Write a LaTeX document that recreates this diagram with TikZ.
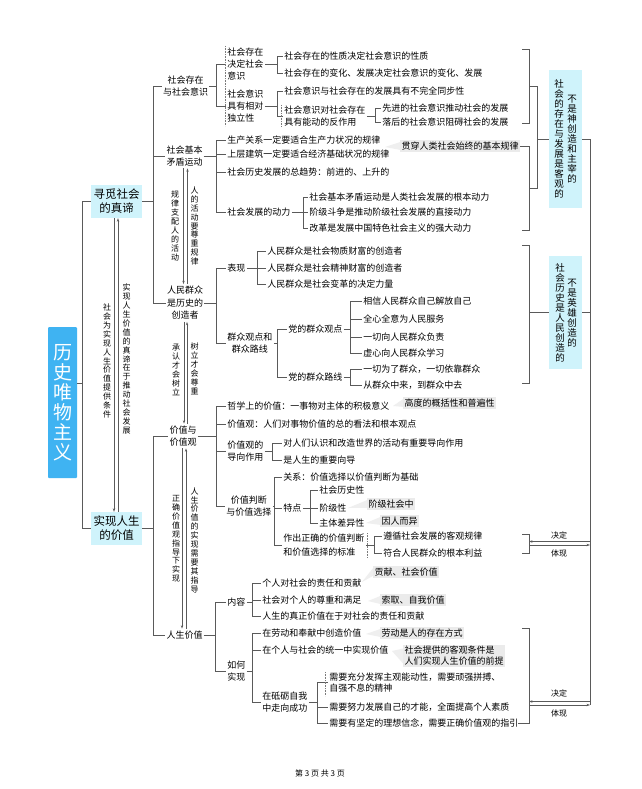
\documentclass[tikz,border=0pt]{standalone}
\usepackage{fontspec}
\setmainfont{Noto Sans CJK SC}
\usetikzlibrary{arrows.meta}
\definecolor{lc}{HTML}{5A5A5A}
\definecolor{mainblue}{HTML}{3FB3F2}
\definecolor{lightcyan}{HTML}{CFF3FB}
\definecolor{annbg}{HTML}{EBEBEB}
\newcommand\fs{\fontsize{9}{12}\selectfont}
\tikzset{
 ln/.style={draw=lc, line width=0.7pt},
 t/.style={anchor=west, inner sep=0pt, inner xsep=1.2pt, font=\fs},
 tl/.style={t, align=left},
 tc/.style={t, align=center},
 cn/.style={inner xsep=1pt, inner ysep=2pt, font=\fs, align=center},
 ann/.style={inner sep=1.5pt, fill=annbg, font=\fs, anchor=west, align=left},
 wedge/.style={fill=annbg!80},
 vl/.style={inner sep=0pt, align=center, font=\fontsize{8}{8.9}\selectfont},
 bxv/.style={inner sep=0pt, align=center, font=\fontsize{9.5}{10}\selectfont},
 bx/.style={fill=lightcyan, inner sep=0pt},
 arr/.style={ln, -{Stealth[length=3.5pt,width=2.4pt]}},
 dot/.style={draw=lc!80, densely dotted, line width=0.6pt},
 small/.style={inner sep=0pt, font=\fontsize{8}{9}\selectfont},
}
\newcommand\br[3]{%
 \coordinate (bv) at (#2,0);
 \draw[ln] (#1.east) -- (#1.east -| bv);
 \foreach \cc in {#3}{\draw[ln] (#1.east -| bv) |- (\cc.west);}
}
\begin{document}
\begin{tikzpicture}[x=1pt,y=-1pt]
\fill[white] (0,0) rectangle (641,789);
\useasboundingbox (0,0) rectangle (641,789);

% level 0 / 1
\node[fill=mainblue, minimum width=29pt, minimum height=151pt, inner sep=0pt, rounded corners=1pt, text=white, font=\fontsize{19}{20}\selectfont, align=center] (main) at (62.5,402.5) {历\\史\\唯\\物\\主\\义};
\node[bx, minimum width=51pt, minimum height=33pt, align=center, font=\fontsize{11.5}{14}\selectfont] (xun) at (116.5,201.5) {寻觅社会\\的真谛};
\node[bx, minimum width=51pt, minimum height=33pt, align=center, font=\fontsize{11.5}{14}\selectfont] (shi) at (116.5,528.5) {实现人生\\的价值};
\coordinate (mainE) at ([yshift=19pt]main.east);
\coordinate (v0) at (82,0);
\draw[ln] (mainE) -- (mainE -| v0);
\foreach \cc in {xun,shi}{\draw[ln] (mainE -| v0) |- (\cc.west);}

\draw[arr] ([xshift=-2.5pt]xun.south) -- ([xshift=-2.5pt]shi.north);
\draw[arr] ([xshift=1.5pt]shi.north) -- ([xshift=1.5pt]xun.south);
\node[vl] (lab1) at (107,361) {社\\会\\为\\实\\现\\人\\生\\价\\值\\提\\供\\条\\件};
\node[vl] (lab2) at (126.5,359) {实\\现\\人\\生\\价\\值\\的\\真\\谛\\在\\于\\推\\动\\社\\会\\发\\展};

% level 2
\node[cn] (n1) at (185.5,86.5) {社会存在\\与社会意识};
\node[cn] (n2) at (184.5,156) {社会基本\\矛盾运动};
\node[cn, font=\fontsize{9}{12.5}\selectfont] (n3) at (185,303) {人民群众\\是历史的\\创造者};
\node[cn] (n4) at (183,436) {价值与\\价值观};
\node[cn] (n5) at (184.5,635) {人生价值};
\br{xun}{153}{n1,n2,n3}
\br{shi}{153}{n4,n5}

\draw[arr] ([xshift=-1pt]n2.south) -- ([xshift=-1pt]n2.south |- n3.north);
\draw[arr] ([xshift=3pt]n2.south |- n3.north) -- ([xshift=3pt]n2.south);
\node[vl] (lab3) at (175,226) {规\\律\\支\\配\\人\\的\\活\\动};
\node[vl] (lab4) at (194.5,226) {人\\的\\活\\动\\要\\尊\\重\\规\\律};

\draw[arr] ([xshift=-1pt]n3.south) -- ([xshift=-1pt]n3.south |- n4.north);
\draw[arr] ([xshift=2pt]n3.south |- n4.north) -- ([xshift=2pt]n3.south);
\node[vl] (lab5) at (176,370) {承\\认\\才\\会\\树\\立};
\node[vl] (lab6) at (194.5,369) {树\\立\\才\\会\\尊\\重};

\draw[arr] ([xshift=-1pt]n4.south) -- ([xshift=-1pt]n4.south |- n5.north);
\draw[arr] ([xshift=3pt]n4.south |- n5.north) -- ([xshift=3pt]n4.south);
\node[vl] (lab7) at (176,539) {正\\确\\价\\值\\观\\指\\导\\下\\实\\现};
\node[vl] (lab8) at (194.5,540) {人\\生\\价\\值\\的\\实\\现\\需\\要\\其\\指\\导};

% ---- 社会存在与社会意识
\node[tl] (a1) at (226,64.5) {社会存在\\决定社会\\意识};
\node[tl] (a2) at (226,106) {社会意识\\具有相对\\独立性};
\br{n1}{216}{a1,a2}
\node[t] (b1) at (283,56) {社会存在的性质决定社会意识的性质};
\node[t] (b2) at (283,73) {社会存在的变化、发展决定社会意识的变化、发展};
\node[t] (b3) at (283,91) {社会意识与社会存在的发展具有不完全同步性};
\node[tl] (b4) at (283,116.5) {社会意识对社会存在\\具有能动的反作用};
\br{a1}{277}{b1,b2}
\br{a2}{277}{b3,b4}
\node[t] (b5) at (381,108) {先进的社会意识推动社会的发展};
\node[t] (b6) at (381,122) {落后的社会意识阻碍社会的发展};
\br{b4}{375}{b5,b6}
\draw[dot] (225,46) -- (225,126);
\draw[dot] (281,105) -- (281,127);

% ---- 社会基本矛盾运动
\node[t] (c1) at (226,140) {生产关系一定要适合生产力状况的规律};
\node[t] (c2) at (226,154) {上层建筑一定要适合经济基础状况的规律};
\node[t] (c3) at (226,172) {社会历史发展的总趋势：前进的、上升的};
\node[t] (c4) at (226,212) {社会发展的动力};
\br{n2}{216}{c1,c2,c3,c4}
\node[t] (c5) at (308,197) {社会基本矛盾运动是人类社会发展的根本动力};
\node[t] (c6) at (308,212) {阶级斗争是推动阶级社会发展的直接动力};
\node[t] (c7) at (308,228) {改革是发展中国特色社会主义的强大动力};
\br{c4}{303}{c5,c6,c7}
\node[ann] (ann1) at (400,146) {贯穿人类社会始终的基本规律};
\fill[wedge] (385,147) -- ([yshift=-2pt]ann1.north west) -- ([yshift=2pt]ann1.south west) -- cycle;

% ---- 人民群众是历史的创造者
\node[t] (d1) at (226,268) {表现};
\node[tc] (d2) at (226,343) {群众观点和\\群众路线};
\br{n3}{216}{d1,d2}
\node[t] (d3) at (266,251) {人民群众是社会物质财富的创造者};
\node[t] (d4) at (266,268) {人民群众是社会精神财富的创造者};
\node[t] (d5) at (266,284) {人民群众是社会变革的决定力量};
\br{d1}{257}{d3,d4,d5}
\node[t] (d6) at (287,329) {党的群众观点};
\node[t] (d7) at (287,377) {党的群众路线};
\br{d2}{277}{d6,d7}
\node[t] (e1) at (362,301) {相信人民群众自己解放自己};
\node[t] (e2) at (362,319) {全心全意为人民服务};
\node[t] (e3) at (362,337) {一切向人民群众负责};
\node[t] (e4) at (362,353) {虚心向人民群众学习};
\br{d6}{350}{e1,e2,e3,e4}
\node[t] (e5) at (362,369) {一切为了群众，一切依靠群众};
\node[t] (e6) at (362,385) {从群众中来，到群众中去};
\br{d7}{350}{e5,e6}

% ---- 价值与价值观
\node[t] (f1) at (226,406) {哲学上的价值：一事物对主体的积极意义};
\node[t] (f2) at (226,424) {价值观：人们对事物价值的总的看法和根本观点};
\node[tl] (f3) at (226,451) {价值观的\\导向作用};
\node[tc] (f4) at (225,506.5) {价值判断\\与价值选择};
\br{n4}{216}{f1,f2,f3,f4}
\node[ann] (ann2) at (403,403) {高度的概括性和普遍性};
\fill[wedge] (393,406) -- ([yshift=-2pt]ann2.north west) -- ([yshift=2pt]ann2.south west) -- cycle;
\node[t] (f5) at (282,443) {对人们认识和改造世界的活动有重要导向作用};
\node[t] (f6) at (282,460) {是人生的重要向导};
\br{f3}{272}{f5,f6}
\node[t] (f7) at (282,477) {关系：价值选择以价值判断为基础};
\node[t] (f8) at (282,508) {特点};
\node[tl, font=\fontsize{9}{14}\selectfont] (f9) at (282,545.5) {作出正确的价值判断\\和价值选择的标准};
\br{f4}{274}{f7,f8,f9}
\node[t] (g1) at (318,490) {社会历史性};
\node[t] (g2) at (318,508) {阶级性};
\node[t] (g3) at (318,523) {主体差异性};
\br{f8}{310}{g1,g2,g3}
\node[ann] (ann3) at (367,504) {阶级社会中};
\fill[wedge] (348,508) -- ([yshift=-2pt]ann3.north west) -- ([yshift=2pt]ann3.south west) -- cycle;
\node[ann] (ann4) at (380,521) {因人而异};
\fill[wedge] (366,523) -- ([yshift=-2pt]ann4.north west) -- ([yshift=2pt]ann4.south west) -- cycle;
\node[t] (g4) at (382,536) {遵循社会发展的客观规律};
\node[t] (g5) at (382,553) {符合人民群众的根本利益};
\br{f9}{374}{g4,g5}
\draw[dot] (367,533) -- (367,558);

% ---- 人生价值
\node[t] (h1) at (226,602) {内容};
\node[tl] (h2) at (226,671.5) {如何\\实现};
\br{n5}{215}{h1,h2}
\node[t] (h3) at (261,583) {个人对社会的责任和贡献};
\node[t] (h4) at (261,600) {社会对个人的尊重和满足};
\node[t] (h5) at (261,616) {人生的真正价值在于对社会的责任和贡献};
\br{h1}{252}{h3,h4,h5}
\node[ann] (ann5) at (373,572) {贡献、社会价值};
\fill[wedge] (362,582) -- ([yshift=-2pt]ann5.north west) -- ([yshift=2pt]ann5.south west) -- cycle;
\node[ann] (ann6) at (380,600) {索取、自我价值};
\fill[wedge] (368,601) -- ([yshift=-2pt]ann6.north west) -- ([yshift=2pt]ann6.south west) -- cycle;
\node[t] (h6) at (261,633) {在劳动和奉献中创造价值};
\node[t] (h7) at (261,650) {在个人与社会的统一中实现价值};
\node[tl] (h8) at (261,702.5) {在砥砺自我\\中走向成功};
\br{h2}{252}{h6,h7,h8}
\node[ann] (ann7) at (380,633) {劳动是人的存在方式};
\fill[wedge] (366,634) -- ([yshift=-2pt]ann7.north west) -- ([yshift=2pt]ann7.south west) -- cycle;
\node[ann, font=\fontsize{9}{11}\selectfont] (ann8) at (403,656) {社会提供的客观条件是\\人们实现人生价值的前提};
\fill[wedge] (392,651) -- ([yshift=-4pt]ann8.north west) -- ([yshift=4pt]ann8.south west) -- cycle;
\node[tl, font=\fontsize{9}{11}\selectfont] (k1) at (328,682.5) {需要充分发挥主观能动性，需要顽强拼搏、\\自强不息的精神};
\node[t] (k2) at (328,707) {需要努力发展自己的才能，全面提高个人素质};
\node[t] (k3) at (328,723) {需要有坚定的理想信念，需要正确价值观的指引};
\br{h8}{317}{k1,k2,k3}
\draw[dot] (325,672) -- (325,696);

% ---- right side boxes and brackets
\node[bx, minimum width=33pt, minimum height=138pt] (bx1) at (565.5,139) {};
\node[bxv] (bx1a) at (559,138.5) {社\\会\\的\\存\\在\\与\\发\\展\\是\\客\\观\\的};
\node[bxv] (bx1b) at (572,139) {不\\是\\神\\创\\造\\和\\主\\宰\\的};
\node[bx, minimum width=33pt, minimum height=113pt] (bx2) at (565.5,312.5) {};
\node[bxv] (bx2a) at (560,312.5) {社\\会\\历\\史\\是\\人\\民\\创\\造\\的};
\node[bxv] (bx2b) at (572,313.5) {不\\是\\英\\雄\\创\\造\\的};

\draw[ln] (522,49) -- (529,49) -- (529,123) -- (522,123);
\draw[ln] (ann1.east) -- (529,146) -- (529,230) -- (522,230);
\draw[ln] (529,86) -- (537,86) -- (537,188) -- (529,188);
\draw[ln] (537,139) -- (bx1.west);
\draw[ln] (522,245) -- (529,245) -- (529,383) -- (522,383);
\draw[ln] (529,312.5) -- (bx2.west);
\coordinate (rv) at (590,0);
\draw[ln] (bx1.east) -- (bx1.east -| rv) -- (590,705);
\draw[ln] (bx2.east) -- (bx2.east -| rv);

\draw[ln] (522,534) -- (529,534) -- (529,553) -- (522,553);
\draw[arr] (590,541.5) -- (529,541.5);
\draw[arr] (529,545) -- (590,545);
\node[small] (jd1) at (559,535) {决定};
\node[small] (tx1) at (559,553) {体现};

\draw[ln] (522,628) -- (529,628) -- (529,723) -- (518,723);
\draw[arr] (590,701.5) -- (529,701.5);
\draw[arr] (529,705) -- (590,705);
\node[small] (jd2) at (559,693) {决定};
\node[small] (tx2) at (559,713) {体现};

\node[font=\fontsize{8}{9}\selectfont, inner sep=0pt] (foot) at (320,773) {第 3 页 共 3 页};
\end{tikzpicture}
\end{document}
